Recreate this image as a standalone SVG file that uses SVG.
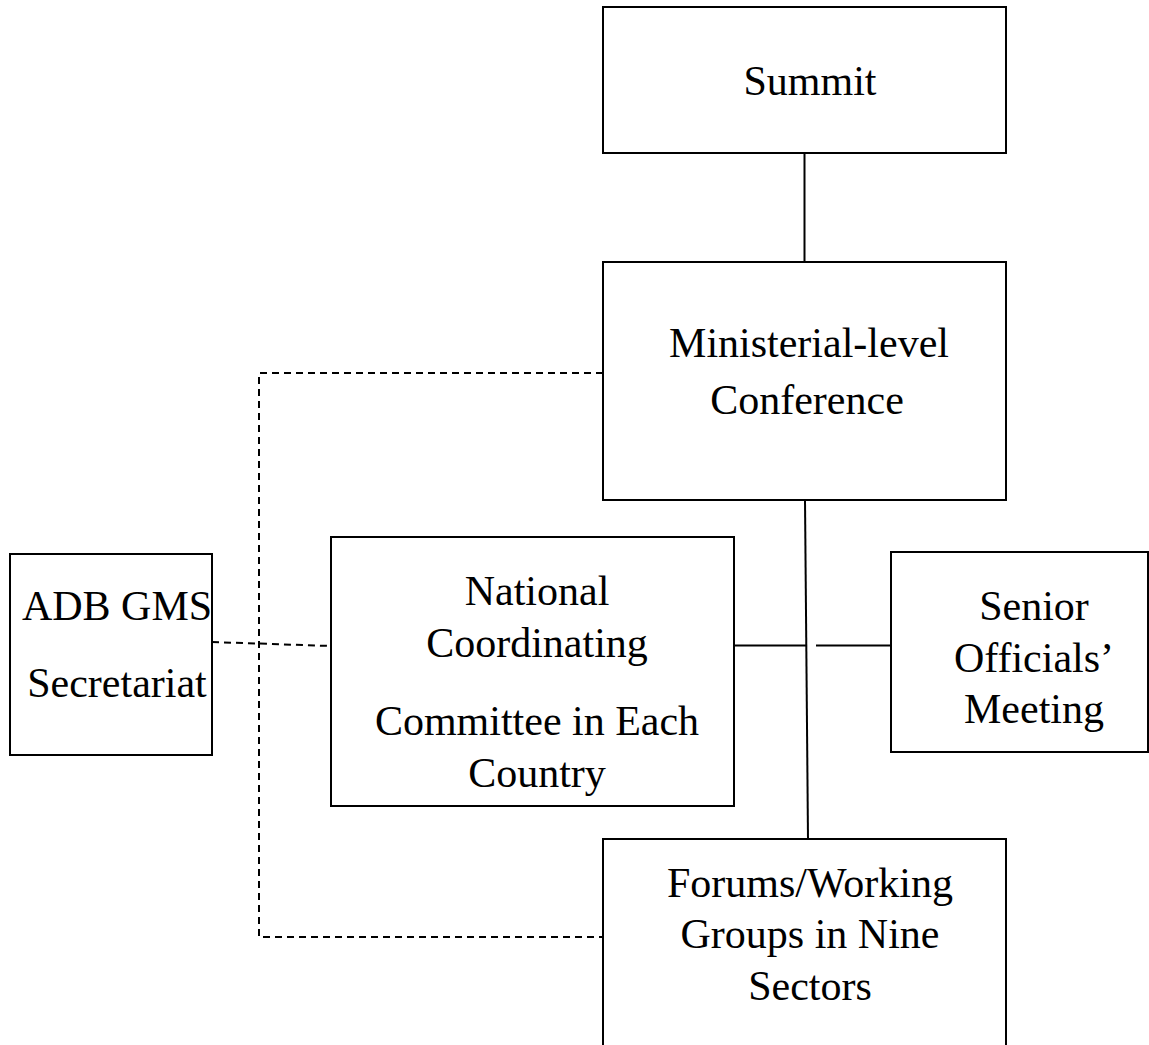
<svg xmlns="http://www.w3.org/2000/svg" width="1149" height="1045" viewBox="0 0 1149 1045">
<style>
.box{fill:#fff;stroke:#000;stroke-width:2}
.lbl{font-family:"Liberation Serif","Times New Roman",serif;font-size:42px;fill:#000;text-anchor:middle}
.solid{stroke:#000;stroke-width:2;fill:none}
.dash{stroke:#000;stroke-width:2;fill:none;stroke-dasharray:7 5}
</style>
<rect width="1149" height="1045" fill="#fff"/>
<g id="connectors">
<line class="solid" x1="804.5" y1="153" x2="804.5" y2="262"/>
<line class="solid" x1="805" y1="500" x2="808" y2="839"/>
<line class="solid" x1="734" y1="645.5" x2="806" y2="645.5"/>
<line class="solid" x1="816" y1="645.5" x2="890" y2="645.5"/>
<polyline class="dash" points="603,373 259,373 259,937 603,937"/>
<line class="dash" x1="212" y1="642" x2="331" y2="646"/>
</g>
<g id="summit">
<rect class="box" x="603" y="7" width="403" height="146"/>
<text class="lbl" x="810" y="95">Summit</text>
</g>
<g id="ministerial">
<rect class="box" x="603" y="262" width="403" height="238"/>
<text class="lbl" x="809" y="357">Ministerial-level</text>
<text class="lbl" x="807" y="414">Conference</text>
</g>
<g id="national">
<rect class="box" x="331" y="537" width="403" height="269"/>
<text class="lbl" x="537" y="605">National</text>
<text class="lbl" x="537" y="657">Coordinating</text>
<text class="lbl" x="537" y="735">Committee in Each</text>
<text class="lbl" x="537" y="787">Country</text>
</g>
<g id="senior">
<rect class="box" x="891" y="552" width="257" height="200"/>
<text class="lbl" x="1034" y="620">Senior</text>
<text class="lbl" x="1034" y="672">Officials’</text>
<text class="lbl" x="1034" y="723">Meeting</text>
</g>
<g id="adb">
<rect class="box" x="10" y="554" width="202" height="201"/>
<text class="lbl" x="117" y="620">ADB GMS</text>
<text class="lbl" x="117" y="697">Secretariat</text>
</g>
<g id="forums">
<rect class="box" x="603" y="839" width="403" height="220"/>
<text class="lbl" x="810" y="897">Forums/Working</text>
<text class="lbl" x="810" y="948">Groups in Nine</text>
<text class="lbl" x="810" y="1000">Sectors</text>
</g>
</svg>
